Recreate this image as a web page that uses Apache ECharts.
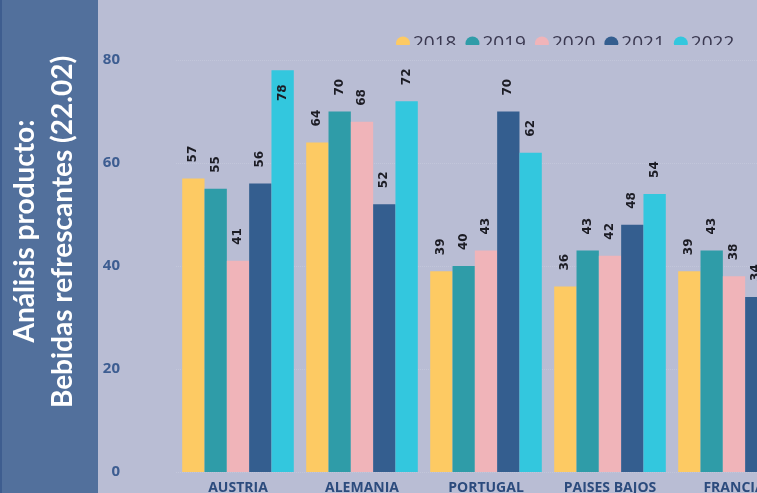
<!DOCTYPE html>
<html>
<head>
<meta charset="utf-8">
<script src="https://cdn.jsdelivr.net/npm/echarts@6/dist/echarts.min.js"></script>
<style>
html,body{margin:0;padding:0;background:#b9bdd4;}
#main{width:757px;height:493px;}
</style>
</head>
<body>
<div id="main"></div>
<script>
var paises = ['AUSTRIA', 'ALEMANIA', 'PORTUGAL', 'PAISES BAJOS', 'FRANCIA'];
var anios = ['2018', '2019', '2020', '2021', '2022'];
var v2018 = [57, 64, 39, 36, 39];
var v2019 = [55, 70, 40, 43, 43];
var v2020 = [41, 68, 43, 42, 38];
var v2021 = [56, 52, 70, 48, 34];
var v2022 = [78, 72, 62, 54, null];
var yTicks = [0, 20, 40, 60, 80];

var colores = ['#fdca63', '#2f9ca8', '#f0b4b9', '#345e8f', '#33c7de'];
var myChart = echarts.init(document.getElementById('main'));

function serie(idx, valores) {
    var datos = [];
    for (var i = 0; i < valores.length; i++) {
        var d = { value: valores[i] };
        // la barra de 78 no deja sitio arriba, la etiqueta va dentro
        if (valores[i] != null && valores[i] > 75) {
            d.label = { position: 'insideTop', align: 'right', verticalAlign: 'middle', distance: 14 };
        }
        datos.push(d);
    }
    return {
        name: anios[idx],
        type: 'bar',
        barGap: '0%',
        barCategoryGap: '10%',
        itemStyle: { color: colores[idx] },
        label: {
            show: true,
            position: 'top',
            rotate: 90,
            align: 'left',
            verticalAlign: 'middle',
            distance: 16,
            color: '#1c1c24',
            fontWeight: 'bold',
            fontSize: 12,
            fontFamily: 'DejaVu Sans'
        },
        data: datos
    };
}

var option = {
    backgroundColor: '#b9bdd4',
    animation: false,
    color: colores,
    legend: {
        left: 391,
        top: 29,
        icon: 'circle',
        itemWidth: 14,
        itemHeight: 14,
        itemGap: 9,
        textStyle: { color: '#3a3850', fontSize: 19, fontFamily: 'Open Sans', padding: [0, 0, 0, -2] },
        data: anios
    },
    grid: { left: 176, top: 60, width: 620, height: 412, outerBoundsMode: 'none' },
    xAxis: {
        type: 'category',
        data: paises,
        axisLine: { show: false },
        axisTick: { show: false },
        axisLabel: { color: '#2c4b7d', fontWeight: 'bold', fontSize: 14, fontFamily: 'Open Sans', margin: 9, interval: 0 }
    },
    yAxis: {
        type: 'value',
        min: yTicks[0],
        max: yTicks[yTicks.length - 1],
        interval: 20,
        axisLine: { show: false },
        axisTick: { show: false },
        axisLabel: { color: '#3d5d91', fontWeight: 'bold', fontSize: 15, fontFamily: 'Open Sans', margin: 56 },
        splitLine: { show: true, lineStyle: { color: '#c2c6da', type: 'dotted', width: 1 } }
    },
    graphic: [
        { type: 'rect', left: 0, top: 0, shape: { width: 98, height: 493 }, style: { fill: '#52709c' }, z: 0 },
        { type: 'rect', left: 0, top: 0, shape: { width: 2, height: 493 }, style: { fill: '#3e5d8f' }, z: 1 },
        {
            type: 'text', x: 25, y: 231, rotation: Math.PI / 2, z: 2,
            style: { text: 'Análisis producto:', fill: '#ffffff', font: 'bold 28px Lato', align: 'center', verticalAlign: 'middle' }
        },
        {
            type: 'text', x: 63, y: 232, rotation: Math.PI / 2, z: 2,
            style: { text: 'Bebidas refrescantes (22.02)', fill: '#ffffff', font: 'bold 28px Lato', align: 'center', verticalAlign: 'middle' }
        },
        // la leyenda queda cortada por abajo
        { type: 'rect', left: 380, top: 45, shape: { width: 377, height: 10 }, style: { fill: '#b9bdd4' }, z: 10 }
    ],
    series: [
        serie(0, v2018),
        serie(1, v2019),
        serie(2, v2020),
        serie(3, v2021),
        serie(4, v2022)
    ]
};
myChart.setOption(option);
</script>
</body>
</html>
